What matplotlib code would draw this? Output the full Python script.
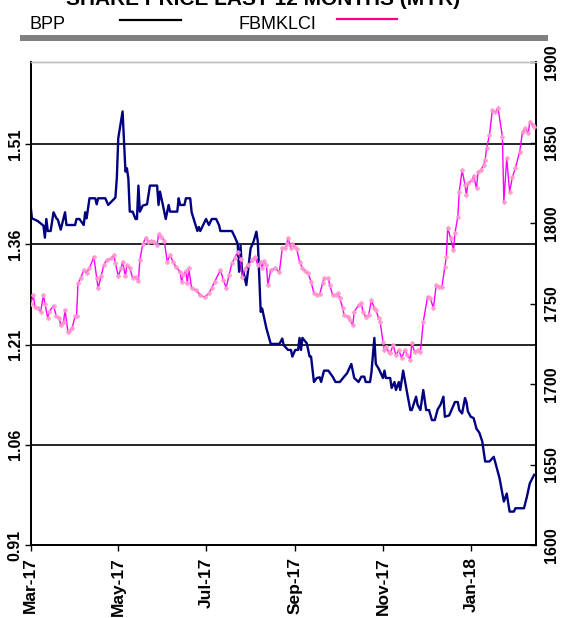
import numpy as np
import matplotlib
matplotlib.use("Agg")
import matplotlib.pyplot as plt
import matplotlib.dates as mdates
from matplotlib.lines import Line2D
from matplotlib.patches import Rectangle

plt.rcParams['font.family'] = ['Liberation Sans', 'DejaVu Sans']

# ---- data: days since 2017-03-01 ----
bpp_day = [0, 1, 5, 9, 10, 11, 12, 14, 16, 18, 19, 21, 24, 25, 31, 32, 34, 37, 38, 39,
           41, 45, 46, 47, 52, 54, 59, 60, 61, 64, 66, 67, 68, 69, 71, 73, 74, 75, 76, 78,
           81, 83, 88, 89, 90, 92, 94, 96, 97, 102, 103, 104, 107, 108, 111, 112, 114, 116, 117, 118,
           122, 124, 126, 129, 131, 132, 140, 142, 144, 145, 146, 147, 148, 150, 153, 155, 157, 158, 160, 161,
           162, 164, 167, 173, 175, 176, 179, 181, 182, 184, 186, 187, 188, 189, 192, 194, 195, 197, 199, 201,
           202, 204, 207, 210, 212, 215, 218, 220, 223, 225, 228, 230, 232, 233, 236, 237, 239, 240, 242, 245,
           246, 247, 250, 251, 253, 254, 256, 257, 259, 262, 264, 265, 268, 269, 271, 273, 275, 277, 279, 281,
           283, 285, 287, 288, 291, 295, 297, 298, 300, 302, 303, 304, 306, 308, 310, 312, 314, 316, 319, 322,
           326, 329, 331, 333, 336, 337, 343, 345, 347, 350]
bpp_price = [1.419, 1.399, 1.395, 1.388, 1.370, 1.398, 1.380, 1.380, 1.408, 1.399, 1.397, 1.382, 1.408, 1.389, 1.389, 1.398, 1.398, 1.389, 1.408, 1.399,
             1.429, 1.429, 1.420, 1.429, 1.429, 1.419, 1.430, 1.459, 1.519, 1.559, 1.469, 1.474, 1.459, 1.409, 1.409, 1.398, 1.398, 1.448, 1.409, 1.418,
             1.420, 1.448, 1.448, 1.419, 1.439, 1.419, 1.398, 1.419, 1.409, 1.409, 1.429, 1.419, 1.419, 1.429, 1.429, 1.408, 1.394, 1.380, 1.386, 1.380,
             1.398, 1.389, 1.398, 1.398, 1.389, 1.380, 1.380, 1.371, 1.361, 1.319, 1.358, 1.319, 1.319, 1.299, 1.354, 1.364, 1.379, 1.364, 1.259, 1.264,
             1.254, 1.234, 1.211, 1.211, 1.219, 1.209, 1.202, 1.202, 1.192, 1.202, 1.202, 1.220, 1.202, 1.220, 1.212, 1.192, 1.192, 1.154, 1.160, 1.161,
             1.154, 1.171, 1.171, 1.162, 1.154, 1.154, 1.162, 1.167, 1.181, 1.160, 1.154, 1.162, 1.162, 1.154, 1.154, 1.169, 1.220, 1.181, 1.174, 1.160,
             1.171, 1.160, 1.160, 1.145, 1.154, 1.142, 1.154, 1.142, 1.171, 1.135, 1.112, 1.112, 1.132, 1.120, 1.112, 1.142, 1.112, 1.112, 1.097, 1.097,
             1.113, 1.120, 1.132, 1.102, 1.104, 1.124, 1.124, 1.112, 1.107, 1.130, 1.124, 1.110, 1.102, 1.100, 1.084, 1.078, 1.065, 1.035, 1.035, 1.042,
             1.010, 0.975, 0.987, 0.960, 0.960, 0.965, 0.965, 0.982, 1.002, 1.015]

klci_day = [0, 2, 3, 5, 7, 9, 10, 12, 13, 16, 18, 20, 21, 23, 24, 26, 27, 29, 31, 32,
            33, 35, 37, 39, 41, 44, 46, 47, 49, 51, 53, 56, 58, 59, 61, 63, 64, 66, 67, 69,
            71, 73, 75, 76, 78, 80, 82, 84, 86, 88, 89, 91, 93, 95, 97, 99, 101, 104, 105, 106,
            108, 109, 110, 112, 115, 118, 121, 124, 126, 128, 132, 134, 136, 138, 140, 142, 144, 146, 147, 149,
            151, 154, 156, 158, 160, 161, 162, 164, 165, 167, 170, 173, 175, 177, 178, 179, 181, 182, 184, 185,
            187, 189, 191, 193, 195, 197, 199, 201, 203, 204, 207, 208, 210, 212, 214, 215, 217, 218, 221, 222,
            224, 225, 228, 230, 231, 233, 235, 237, 239, 240, 242, 243, 245, 246, 247, 249, 250, 252, 254, 256,
            258, 260, 262, 264, 265, 267, 269, 271, 273, 276, 278, 280, 282, 284, 286, 288, 289, 290, 292, 294,
            295, 297, 298, 300, 302, 303, 304, 307, 308, 310, 311, 313, 315, 316, 317, 319, 321, 323, 325, 328,
            329, 331, 333, 335, 337, 340, 342, 344, 346, 347, 349, 350]
klci_level = [1750.0, 1755.0, 1748.0, 1747.0, 1745.0, 1755.0, 1750.0, 1741.0, 1745.0, 1748.6, 1742.0, 1741.0, 1736.6, 1738.7, 1746.0, 1732.5, 1733.0, 1735.0, 1742.0, 1742.0,
              1762.5, 1766.0, 1770.8, 1769.0, 1772.0, 1779.0, 1766.0, 1759.4, 1766.8, 1774.0, 1777.0, 1778.0, 1780.0, 1775.0, 1767.0, 1772.0, 1776.0, 1767.0, 1774.0, 1772.0,
              1766.0, 1766.6, 1764.0, 1777.0, 1786.7, 1790.8, 1788.4, 1789.0, 1788.4, 1786.3, 1793.0, 1791.5, 1789.0, 1776.0, 1780.0, 1776.0, 1772.8, 1769.7, 1763.5, 1767.7,
              1770.2, 1762.5, 1771.8, 1759.4, 1758.4, 1755.3, 1754.0, 1756.3, 1759.8, 1763.5, 1770.8, 1764.6, 1759.8, 1767.7, 1775.0, 1778.4, 1782.0, 1777.6, 1766.6, 1771.4,
              1773.9, 1777.0, 1779.0, 1773.9, 1776.0, 1771.8, 1776.4, 1773.9, 1761.5, 1771.0, 1771.8, 1769.7, 1784.2, 1784.6, 1786.7, 1790.8, 1784.2, 1786.7, 1785.0, 1784.0,
              1776.0, 1772.0, 1770.2, 1768.7, 1763.5, 1756.3, 1755.3, 1755.7, 1762.5, 1765.6, 1765.6, 1761.5, 1755.3, 1755.3, 1756.3, 1753.2, 1747.0, 1742.8, 1741.8, 1739.7,
              1736.6, 1744.9, 1749.0, 1750.1, 1744.9, 1741.8, 1742.8, 1752.1, 1747.0, 1746.0, 1740.8, 1738.7, 1726.3, 1721.0, 1723.1, 1720.0, 1719.0, 1724.2, 1718.0, 1721.0,
              1716.0, 1721.0, 1718.0, 1715.0, 1725.2, 1720.0, 1721.0, 1720.0, 1738.7, 1754.2, 1753.2, 1747.0, 1761.5, 1760.5, 1760.5, 1772.8, 1779.0, 1797.0, 1790.5, 1783.2,
              1793.6, 1803.9, 1819.4, 1832.9, 1823.6, 1817.4, 1824.6, 1826.7, 1829.4, 1821.5, 1831.8, 1832.9, 1836.0, 1839.0, 1846.4, 1854.6, 1870.1, 1869.0, 1871.2, 1853.5,
              1813.2, 1840.1, 1819.4, 1828.7, 1834.0, 1844.3, 1856.7, 1858.8, 1855.7, 1862.9, 1860.8, 1859.8]

left_ticks = [0.91, 1.06, 1.21, 1.36, 1.51]
right_ticks = [1600, 1650, 1700, 1750, 1800, 1850, 1900]
month_ticks = ['2017-03-01', '2017-05-01', '2017-07-01', '2017-09-01', '2017-11-01', '2018-01-01']

start = np.datetime64('2017-03-01')
bpp_dates = start + np.array(bpp_day, dtype='timedelta64[D]')
klci_dates = start + np.array(klci_day, dtype='timedelta64[D]')

W, H = 563, 618
fig = plt.figure(figsize=(W / 100, H / 100), dpi=100)
ax = fig.add_axes([30.5 / W, 1 - 545 / H, 505 / W, 483 / H])
ax2 = ax.twinx()

# gridlines on the price axis
for t in left_ticks[1:]:
    ax.axhline(t, color='black', lw=1.2, zorder=1)

ax.plot(bpp_dates, bpp_price, color='#000080', lw=1.7, zorder=3)
ax2.plot(klci_dates, klci_level, color='#FF00FF', lw=1.0, marker='P', ms=3.2,
         mfc='#FF99CC', mec='#FF99CC', mew=0.3, zorder=3)

ax.set_ylim(0.91, 1.633)
ax2.set_ylim(1600, 1900)
ax.set_xlim(start, start + np.timedelta64(351, 'D'))

ax.set_yticks(left_ticks)
ax.set_yticklabels([f"{t:.2f}" for t in left_ticks], rotation=90, va='center',
                   fontsize=11.5, fontweight='bold')
ax2.set_yticks(right_ticks)
ax2.set_yticklabels([str(t) for t in right_ticks], rotation=90, va='center',
                    fontsize=11.5, fontweight='bold')
ax.set_xticks([np.datetime64(m) for m in month_ticks])
ax.xaxis.set_major_formatter(mdates.DateFormatter('%b-%y'))
for lab in ax.get_xticklabels():
    lab.set_rotation(90)
    lab.set_fontsize(12.5)
    lab.set_fontweight('bold')

ax.tick_params(axis='y', direction='out', length=4, width=1, pad=1.5)
ax.tick_params(axis='x', direction='out', length=4, width=1, pad=5)
ax2.tick_params(axis='y', direction='in', length=4, width=1, pad=6)

for a in (ax, ax2):
    a.spines['left'].set_linewidth(1.3)
    a.spines['bottom'].set_linewidth(1.3)
    a.spines['right'].set_linewidth(1.3)
    a.spines['top'].set_color('#c0c0c0')
    a.spines['top'].set_linewidth(1.0)

# header: title (clipped at top), legend and separator bar
fig.text(263 / W, 1 - 5 / H, 'SHARE PRICE LAST 12 MONTHS (MYR)', ha='center',
         va='baseline', fontsize=15, fontweight='bold')
fig.text(30 / W, 1 - 29 / H, 'BPP', ha='left', va='baseline', fontsize=13)
fig.add_artist(Line2D([120 / W, 181 / W], [1 - 19.5 / H, 1 - 19.5 / H],
                      color='black', lw=1.6, transform=fig.transFigure))
fig.text(239 / W, 1 - 29 / H, 'FBMKLCI', ha='left', va='baseline', fontsize=13)
fig.add_artist(Line2D([337 / W, 397 / W], [1 - 19 / H, 1 - 19 / H],
                      color='#FF0080', lw=1.6, transform=fig.transFigure))
fig.add_artist(Rectangle((20 / W, 1 - 41 / H), 528 / W, 5.5 / H, color='#808080',
                         transform=fig.transFigure, lw=0))

fig.savefig('out.png', dpi=100)
